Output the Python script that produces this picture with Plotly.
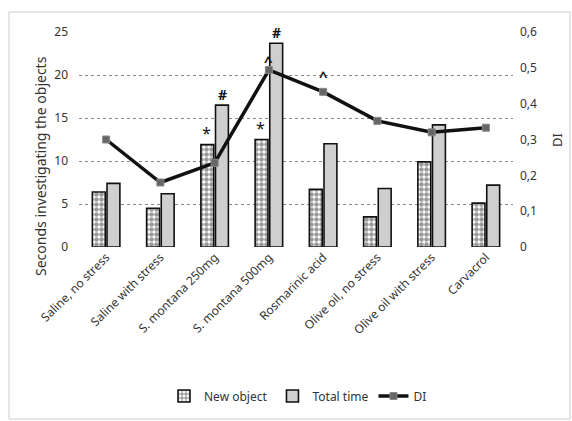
import plotly.graph_objects as go

categories = ["Saline, no stress", "Saline with stress", "S. montana 250mg", "S. montana 500mg",
              "Rosmarinic acid", "Olive oil, no stress", "Olive oil with stress", "Carvacrol"]
new_object = [6.4, 4.5, 11.9, 12.5, 6.7, 3.5, 9.9, 5.1]
total_time = [7.4, 6.2, 16.5, 23.7, 12.0, 6.8, 14.2, 7.2]
di = [0.30, 0.18, 0.235, 0.494, 0.433, 0.352, 0.32, 0.333]

# significance marks: (category, series, symbol)
marks = [
    ("S. montana 250mg", "new", "*"),
    ("S. montana 250mg", "total", "#"),
    ("S. montana 500mg", "new", "*"),
    ("S. montana 500mg", "total", "#"),
    ("S. montana 500mg", "di", "^"),
    ("Rosmarinic acid", "di", "^"),
]

FONT = "Noto Sans"
W, H = 572, 421
L, R, T, B = 79, 59, 32, 174
pw, ph = W - L - R, H - T - B

fig = go.Figure()
fig.add_trace(go.Bar(
    x=categories, y=new_object, name="New object",
    marker=dict(color="white", line=dict(color="#111", width=1.6),
                pattern=dict(shape=".", fgcolor="#333", bgcolor="white", size=5, solidity=0.65)),
))
fig.add_trace(go.Bar(
    x=categories, y=total_time, name="Total time",
    marker=dict(color="#cfcfcf", line=dict(color="#111", width=1.6)),
))
fig.add_trace(go.Scatter(
    x=categories, y=di, name="DI", yaxis="y2", mode="lines+markers",
    line=dict(color="#111", width=3.5),
    marker=dict(symbol="square", size=7, color="#666", line=dict(color="#888", width=1)),
))

annotations = []
for cat, ser, sym in marks:
    i = categories.index(cat)
    if ser == "new":
        annotations.append(dict(x=cat, y=new_object[i], xref="x", yref="y", text=sym,
                                showarrow=False, xshift=-8, yshift=12,
                                font=dict(family=FONT, size=16, color="#111")))
    elif ser == "total":
        annotations.append(dict(x=cat, y=total_time[i], xref="x", yref="y", text="<b>" + sym + "</b>",
                                showarrow=False, xshift=8, yshift=11,
                                font=dict(family=FONT, size=14, color="#111")))
    else:
        annotations.append(dict(x=cat, y=di[i], xref="x", yref="y2", text="<b>" + sym + "</b>",
                                showarrow=False, xshift=0, yshift=16 if i == 4 else 9,
                                font=dict(family=FONT, size=15, color="#111")))

annotations.append(dict(text="Seconds investigating the objects", textangle=-90,
                        xref="paper", yref="paper", x=(40 - L) / pw, y=(H - B - 166) / ph,
                        xanchor="center", yanchor="middle",
                        showarrow=False, font=dict(family=FONT, size=14, color="#333")))
annotations.append(dict(text="DI", textangle=-90,
                        xref="paper", yref="paper", x=(557 - L) / pw, y=(H - B - 140) / ph,
                        xanchor="center", yanchor="middle",
                        showarrow=False, font=dict(family=FONT, size=13, color="#333")))

fig.update_layout(
    width=W, height=H,
    margin=dict(l=L, r=R, t=T, b=B, autoexpand=False),
    paper_bgcolor="white", plot_bgcolor="white",
    separators=",.",
    barmode="group", bargap=0.46, bargroupgap=0.12,
    font=dict(family=FONT, size=12, color="#333"),
    showlegend=True,
    legend=dict(orientation="h", x=(298 - L) / pw, xanchor="center",
                y=(H - B - 396) / ph, yanchor="middle",
                font=dict(family=FONT, size=12, color="#333"),
                itemwidth=30, tracegroupgap=0),
    xaxis=dict(tickangle=-45, showgrid=False, showline=False, ticks="", automargin=False,
               tickfont=dict(family=FONT, size=12, color="#333")),
    yaxis=dict(range=[0, 25], dtick=5, showgrid=True, gridcolor="#888888", griddash="dot",
               gridwidth=1, zeroline=False, showline=False, ticks="", ticklabelstandoff=10,
               automargin=False, tickfont=dict(family=FONT, size=12, color="#333")),
    yaxis2=dict(range=[0, 0.6], dtick=0.1, overlaying="y", side="right", showgrid=False,
                zeroline=False, showline=False, ticks="", ticklabelstandoff=6, automargin=False,
                tickfont=dict(family=FONT, size=12, color="#333")),
    annotations=annotations,
    shapes=[dict(type="rect", xref="paper", yref="paper",
                 x0=(9 - L) / pw, x1=(570 - L) / pw,
                 y0=(H - B - 419) / ph, y1=(H - B - 12) / ph,
                 line=dict(color="#cccccc", width=1), fillcolor="rgba(0,0,0,0)", layer="below")],
)

fig.write_html("out.html", config={"displayModeBar": False},
               post_script="document.body.style.margin='0';")
